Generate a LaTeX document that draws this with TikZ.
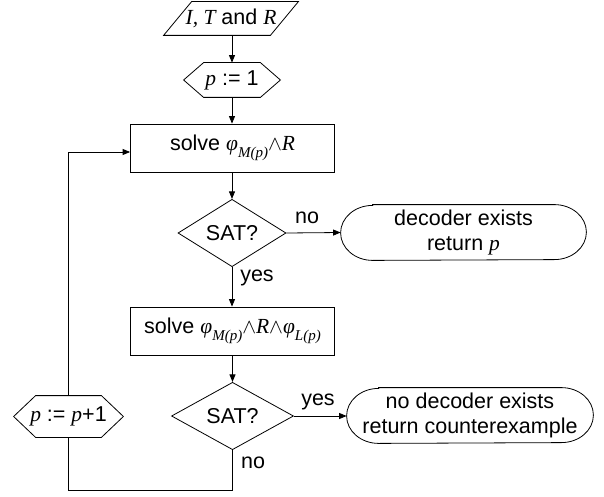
\documentclass[tikz,border=0pt]{standalone}
\usepackage{fontspec}
\setmainfont{Liberation Sans}
\newfontfamily\tnr{Liberation Serif}
\usetikzlibrary{arrows.meta,shapes.geometric,calc}

% italic serif variables and their subscripts
\newcommand\iv[1]{{\tnr\itshape #1}}
\newcommand\sbs[1]{\raisebox{-0.3em}{\fontsize{15}{15}\selectfont\tnr\itshape #1}}
\newcommand\wdg{{\fontsize{20}{20}\selectfont$\wedge$}}

% outline of a hexagonal (preparation) box around a named node
\newcommand\hexoutline[2]{%
  \draw (#1.west) -- ([xshift=#2]#1.north west) -- ([xshift=-#2]#1.north east)
        -- (#1.east) -- ([xshift=-#2]#1.south east) -- ([xshift=#2]#1.south west) -- cycle;}

% outline of a terminal box with half-elliptic ends
\newcommand\termoutline[1]{%
  \draw ([xshift=32pt]#1.north west) -- ([xshift=-32pt]#1.north east)
        arc[start angle=90,end angle=-90,x radius=32pt,y radius=27.5pt]
        -- ([xshift=32pt]#1.south west)
        arc[start angle=270,end angle=90,x radius=32pt,y radius=27.5pt] -- cycle;}

\begin{document}
\begin{tikzpicture}[x=1pt,y=-1pt,
  font=\fontsize{21.5}{25}\selectfont,
  line width=0.8pt,
  arr/.style={-{Triangle[length=7.5pt,width=6pt]}},
  plain/.style={rectangle,inner sep=0pt},
  box/.style={draw,rectangle,inner sep=0pt,minimum width=204pt,minimum height=48pt},
  dec/.style={draw,diamond,inner sep=0pt,minimum height=54pt},
  term/.style={rectangle,inner sep=0pt,align=center,minimum height=55pt},
  lbl/.style={inner sep=0pt}]

  \fill[white] (0,0) rectangle (604,497);
  \useasboundingbox (0,0) rectangle (604,497);

  % input parallelogram
  \node[plain,minimum width=134pt,minimum height=33pt] (in) at (231,18.5)
       {\iv{I, T} and \iv{R}};
  \draw (in.south west) -- ([xshift=-28pt]in.south east) -- (in.north east)
        -- ([xshift=28pt]in.north west) -- cycle;

  % initialisation
  \node[plain,minimum width=96pt,minimum height=34pt] (p1) at (232,80)
       {\iv{p} := 1};
  \hexoutline{p1}{20pt}

  % first SAT call
  \node[box] (s1) at (232.5,148) {solve \iv{φ}\sbs{M(p)}\wdg\iv{R}};
  \node[dec,minimum width=108pt] (d1) at (232,233) {SAT?};
  \node[term,minimum width=245pt] (t1) at (463.5,232.5)
       {decoder exists\\return \iv{p}};
  \termoutline{t1}

  % second SAT call
  \node[box] (s2) at (232.5,331) {solve \iv{φ}\sbs{M(p)}\wdg\iv{R}\wdg\iv{φ}\sbs{L(p)}};
  \node[dec,minimum width=122pt] (d2) at (232.5,416) {SAT?};
  \node[term,minimum width=246pt] (t2) at (470,415.5)
       {no decoder exists\\return counterexample};
  \termoutline{t2}

  % increment
  \node[plain,minimum width=109pt,minimum height=41pt] (p2) at (68.5,416.5)
       {\iv{p} := \iv{p}+1};
  \hexoutline{p2}{22pt}

  \coordinate (low) at (232,490);

  % main flow
  \draw[arr] (in.south -| p1.north) -- (p1.north);
  \draw[arr] (p1.south) -- (p1.south |- s1.north);
  \draw[arr] (d1.north |- s1.south) -- (d1.north);
  \draw[arr] (d1.south) -- (d1.south |- s2.north);
  \draw[arr] (d2.north |- s2.south) -- (d2.north);
  \draw[arr] (d1.east) -- (t1.west);
  \draw[arr] (d2.east) -- (d2.east -| t2.west);

  % loop back
  \draw (d2.south) -- (d2.south |- low) -- (p2.south |- low) -- (p2.south);
  \draw[arr] (p2.north) |- ([yshift=-4pt]s1.west);

  % branch labels
  \node[lbl] (l1) at (307,218) {no};
  \node[lbl] (l2) at (257,278) {yes};
  \node[lbl] (l3) at (318,402) {yes};
  \node[lbl] (l4) at (253,463) {no};
\end{tikzpicture}
\end{document}
